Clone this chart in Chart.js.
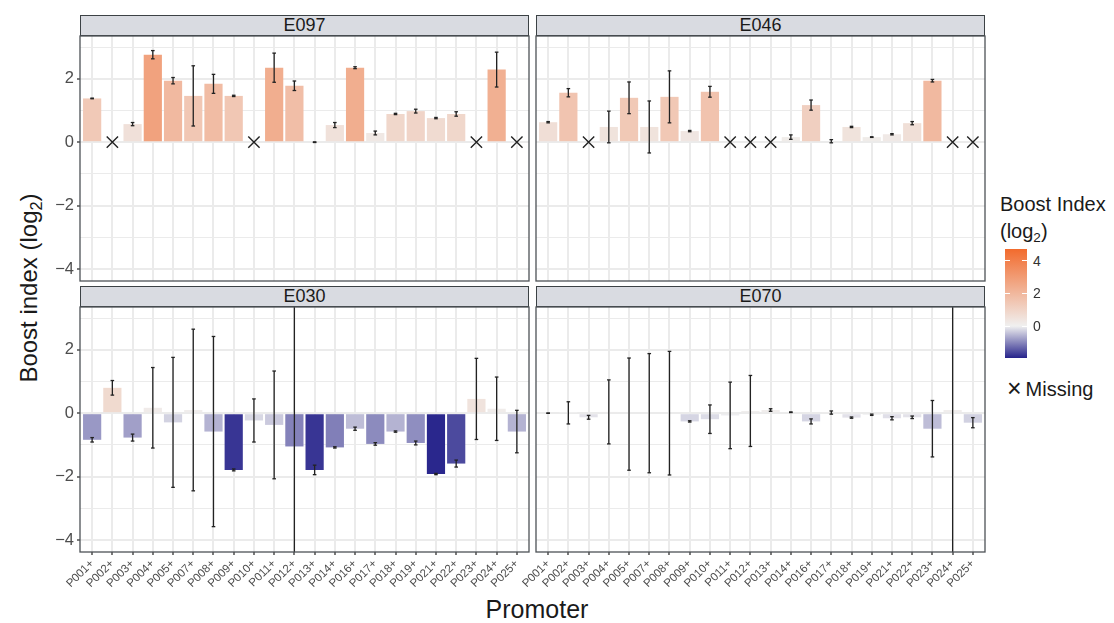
<!DOCTYPE html>
<html>
<head>
<meta charset="utf-8">
<script src="https://cdn.jsdelivr.net/npm/chart.js@4.4.1/dist/chart.umd.min.js"></script>
<style>
  html, body { margin: 0; padding: 0; background: #fff; }
  body { width: 1114px; height: 623px; position: relative; overflow: hidden; font-family: 'Liberation Sans', Arial, sans-serif; color: #1a1a1a; }
  canvas { position: absolute; }
  .strip { position: absolute; box-sizing: border-box; height: 21px; width: 449px; background: #d9dbe1; border: 1.5px solid #3c4245; font-size: 18px; line-height: 18px; text-align: center; color: #1a1a1a; }
  sub { font-size: 0.68em; vertical-align: -0.3em; line-height: 0; }
  #ytitle { position: absolute; left: 29px; top: 288px; transform: translate(-50%, -50%) rotate(-90deg); white-space: nowrap; font-size: 24px; }
  #xtitle { position: absolute; left: 537px; top: 609px; transform: translate(-50%, -50%); white-space: nowrap; font-size: 25px; }
  #legend-title { position: absolute; left: 1000px; top: 191px; font-size: 20px; line-height: 27px; white-space: nowrap; }
  #legend-bar { position: absolute; left: 1005px; top: 249px; width: 22px; height: 109px; }
  .legend-tick { position: absolute; font-size: 14px; color: #333; transform: translateY(-50%); }
  .legend-mark { position: absolute; width: 5px; height: 1px; background: #fff; }
  #legend-missing { position: absolute; left: 1007px; top: 387px; transform: translateY(-50%); white-space: nowrap; font-size: 20px; }
  #legend-missing .key { font-size: 25px; margin-right: 4px; position: relative; top: 1px; }
</style>
</head>
<body>

<div class="strip" style="left:80px; top:15px;">E097</div>
<div class="strip" style="left:536px; top:15px;">E046</div>
<div class="strip" style="left:80px; top:286px;">E030</div>
<div class="strip" style="left:536px; top:286px;">E070</div>

<div id="ytitle">Boost index (log<sub>2</sub>)</div>
<div id="xtitle">Promoter</div>

<div id="legend-title">Boost Index<br>(log<sub>2</sub>)</div>
<div id="legend-bar"></div>
<div id="legend-missing"><span class="key">×</span>Missing</div>

<script>
'use strict';

/* ── Categories & tick labels ── */
const PROMOTERS = ['P001+', 'P002+', 'P003+', 'P004+', 'P005+', 'P007+', 'P008+', 'P009+', 'P010+', 'P011+', 'P012+',
    'P013+', 'P014+', 'P016+', 'P017+', 'P018+', 'P019+', 'P021+', 'P022+', 'P023+', 'P024+', 'P025+'];
const X_TICKS = [0, 1, 2, 3, 4, 5, 6, 7, 8, 9, 10, 11, 12, 13, 14, 15, 16, 17, 18, 19, 20, 21];
const Y_TICKS = [-4, -3, -2, -1, 0, 1, 2, 3];
const Y_LABELS = ['−4', '', '−2', '', '0', '', '2', ''];
const LEGEND_TICKS = [4, 2, 0];

/* ── Boost index per cell type (null = missing) ── */
const E097_VALUE = [1.38, null, 0.57, 2.76, 1.94, 1.46, 1.84, 1.46, null, 2.35, 1.78, 0.0, 0.54, 2.35, 0.29, 0.89, 0.98, 0.76, 0.89, null, 2.29, null];
const E097_ERR   = [0.01, null, 0.05, 0.13, 0.10, 0.95, 0.30, 0.02, null, 0.46, 0.15, 0.01, 0.08, 0.03, 0.06, 0.02, 0.06, 0.02, 0.07, null, 0.55, null];

const E046_VALUE = [0.63, 1.56, null, 0.48, 1.40, 0.48, 1.43, 0.35, 1.59, null, null, null, 0.16, 1.17, 0.03, 0.48, 0.16, 0.25, 0.60, 1.94, null, null];
const E046_ERR   = [0.02, 0.13, null, 0.50, 0.50, 0.82, 0.82, 0.02, 0.17, null, null, null, 0.07, 0.16, 0.05, 0.02, 0.01, 0.02, 0.05, 0.04, null, null];

const E030_VALUE = [-0.84, 0.80, -0.77, 0.17, -0.29, 0.10, -0.58, -1.79, -0.23, -0.37, -1.05, -1.79, -1.08, -0.49, -0.97, -0.58, -0.94, -1.92, -1.59, 0.45, 0.14, -0.58];
const E030_ERR   = [0.07, 0.23, 0.11, 1.27, 2.05, 2.55, 3.00, 0.03, 0.68, 1.70, 5.50, 0.15, 0.02, 0.05, 0.04, 0.02, 0.06, 0.02, 0.11, 1.28, 1.00, 0.67];

const E070_VALUE = [0.0, 0.01, -0.13, 0.04, -0.03, 0.0, 0.0, -0.26, -0.19, -0.07, 0.07, 0.10, 0.03, -0.26, 0.02, -0.14, -0.05, -0.16, -0.13, -0.49, 0.10, -0.30];
const E070_ERR   = [0.005, 0.35, 0.06, 1.01, 1.77, 1.88, 1.95, 0.02, 0.45, 1.05, 1.12, 0.04, 0.01, 0.08, 0.05, 0.02, 0.02, 0.05, 0.04, 0.89, 5.50, 0.16];

/* ── Layout ── */
const PLOT_W = 449, PLOT_H = 245;
const X_MIN = -0.6, X_MAX = 21.6;
const Y_MIN = -4.38, Y_MAX = 3.35;

/* ── Fill scale (gradient2 style) ── */
const FILL_LOW = [38, 35, 139], FILL_MID = [240, 240, 240], FILL_HIGH = [242, 107, 45];
const FILL_MIN = -1.96, FILL_MAX = 4.73;

const GRID = '#ebebeb';
const ERR_COLOR = '#222222';
const TEXT = '#4d4d4d';

Chart.defaults.font.family = "'Liberation Sans', Arial, sans-serif";

function rgb(c) { return `rgb(${c.join(',')})`; }

function fillFor(v) {
    const t = v < 0 ? Math.min(v / FILL_MIN, 1) : Math.min(v / FILL_MAX, 1);
    const end = v < 0 ? FILL_LOW : FILL_HIGH;
    return rgb(FILL_MID.map((m, k) => Math.round(m + (end[k] - m) * t)));
}

const panelFrame = {
    id: 'panelFrame',
    afterDraw(chart) {
        const { ctx, chartArea: a } = chart;
        ctx.save();
        ctx.strokeStyle = '#4d5256';
        ctx.lineWidth = 1.3;
        ctx.strokeRect(a.left, a.top, a.right - a.left, a.bottom - a.top);
        ctx.restore();
    },
};

function makePanel(values, errors, left, top, axisY, axisX) {
    const yAxisW = axisY ? 80 : 40;
    const xAxisH = axisX ? 64 : 0;
    const pad = { top: 20, right: 10, bottom: axisX ? 0 : 20, left: 0 };

    const canvas = document.createElement('canvas');
    canvas.width = yAxisW + PLOT_W + pad.right;
    canvas.height = pad.top + PLOT_H + xAxisH + pad.bottom;
    canvas.style.left = (left - yAxisW) + 'px';
    canvas.style.top = (top - pad.top) + 'px';
    document.body.appendChild(canvas);

    const present = X_TICKS.filter(i => values[i] !== null);
    const missing = X_TICKS.filter(i => values[i] === null);

    const bars = present.map(i => ({ x: i, y: values[i] }));
    const spans = present.map(i => ({ x: i, y: [values[i] - errors[i], values[i] + errors[i]] }));
    const capsHi = present.map(i => ({ x: i, y: values[i] + errors[i] }));
    const capsLo = present.map(i => ({ x: i, y: values[i] - errors[i] }));
    const gaps = missing.map(i => ({ x: i, y: 0 }));

    const chart = new Chart(canvas, {
        type: 'bar',
        data: {
            datasets: [
                {
                    type: 'bar', data: bars, order: 4,
                    backgroundColor: bars.map(b => fillFor(b.y)),
                    borderWidth: 0, grouped: false,
                    categoryPercentage: 0.9, barPercentage: 1,
                },
                {
                    type: 'bar', data: spans, order: 3,
                    backgroundColor: ERR_COLOR, borderWidth: 0,
                    grouped: false, maxBarThickness: 1.3,
                },
                {
                    type: 'scatter', data: capsHi, order: 2,
                    pointStyle: 'line', pointRadius: 1.8, pointBorderWidth: 1.3, pointBorderColor: ERR_COLOR,
                },
                {
                    type: 'scatter', data: capsLo, order: 2,
                    pointStyle: 'line', pointRadius: 1.8, pointBorderWidth: 1.3, pointBorderColor: ERR_COLOR,
                },
                {
                    type: 'scatter', data: gaps, order: 1,
                    pointStyle: 'crossRot', pointRadius: 8, pointBorderWidth: 1.4, pointBorderColor: '#222',
                },
            ],
        },
        options: {
            responsive: false,
            animation: false,
            devicePixelRatio: 1,
            events: [],
            layout: { padding: pad },
            plugins: { legend: { display: false }, tooltip: { enabled: false } },
            scales: {
                x: {
                    type: 'linear', min: X_MIN, max: X_MAX, bounds: 'data', offset: false,
                    afterBuildTicks: s => { s.ticks = X_TICKS.map(v => ({ value: v })); },
                    afterFit: s => { s.height = xAxisH; },
                    border: { display: false },
                    grid: {
                        offset: false, color: GRID, lineWidth: 2,
                        drawTicks: axisX, tickLength: 3, tickColor: '#333', tickWidth: 1.3,
                    },
                    ticks: {
                        display: axisX, autoSkip: false, minRotation: 45, maxRotation: 45,
                        padding: 2, color: TEXT, font: { size: 11.5 },
                        callback: v => PROMOTERS[v],
                    },
                },
                y: {
                    type: 'linear', min: Y_MIN, max: Y_MAX, bounds: 'data',
                    afterBuildTicks: s => { s.ticks = Y_TICKS.map(v => ({ value: v })); },
                    afterFit: s => { s.width = yAxisW; },
                    border: { display: false },
                    grid: {
                        color: GRID,
                        lineWidth: c => (c.tick && c.tick.value % 2 === 0 ? 2 : 1),
                        drawTicks: axisY, tickLength: 3, tickWidth: 1.3,
                        tickColor: c => (c.tick && c.tick.value % 2 === 0 ? '#333' : 'rgba(0,0,0,0)'),
                    },
                    ticks: {
                        display: axisY, padding: 3, color: TEXT, font: { size: 16.5 },
                        callback: v => Y_LABELS[Y_TICKS.indexOf(v)],
                    },
                },
            },
        },
        plugins: [panelFrame],
    });

    // pin the plotting area exactly where the facet sits
    const a = chart.chartArea;
    canvas.style.left = (left - a.left) + 'px';
    canvas.style.top = (top - a.top) + 'px';
}

makePanel(E097_VALUE, E097_ERR, 80, 36, true, false);
makePanel(E046_VALUE, E046_ERR, 536, 36, false, false);
makePanel(E030_VALUE, E030_ERR, 80, 307, true, true);
makePanel(E070_VALUE, E070_ERR, 536, 307, false, true);

/* ── Colour bar legend ── */
const legendBar = document.getElementById('legend-bar');
const barTop = 249, barH = 109, barLeft = 1005, barW = 22;
const midPct = (-FILL_MIN / (FILL_MAX - FILL_MIN)) * 100;
legendBar.style.background = `linear-gradient(to top, ${rgb(FILL_LOW)} 0%, ${rgb(FILL_MID)} ${midPct}%, ${rgb(FILL_HIGH)} 100%)`;

LEGEND_TICKS.forEach(v => {
    const y = barTop + barH - ((v - FILL_MIN) / (FILL_MAX - FILL_MIN)) * barH;
    const label = document.createElement('div');
    label.className = 'legend-tick';
    label.style.left = (barLeft + barW + 6) + 'px';
    label.style.top = y + 'px';
    label.textContent = String(v);
    document.body.appendChild(label);
    [barLeft, barLeft + barW - 5].forEach(x => {
        const mark = document.createElement('div');
        mark.className = 'legend-mark';
        mark.style.left = x + 'px';
        mark.style.top = (y - 0.5) + 'px';
        document.body.appendChild(mark);
    });
});
</script>
</body>
</html>
